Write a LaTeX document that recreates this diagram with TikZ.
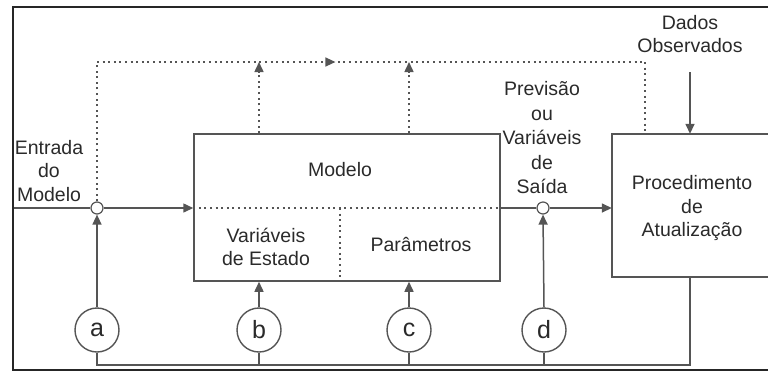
\documentclass[tikz,border=0pt]{standalone}
\usepackage{fontspec}
\setmainfont{Liberation Sans}
\usetikzlibrary{arrows.meta,decorations.markings}
\definecolor{ln}{HTML}{555555}
\definecolor{tx}{HTML}{2A2A2A}
\begin{document}
\begin{tikzpicture}[x=1pt,y=-1pt,
  every node/.style={text=tx,font=\fontsize{19.5}{23.5}\selectfont,inner sep=0pt},
  line/.style={draw=ln,line width=1.5pt},
  dotline/.style={draw=ln,line width=1.5pt,dash pattern=on 2pt off 3.6pt},
  tip/.style={-{Triangle[length=10pt,width=9pt]}},
  junc/.style={circle,draw=ln,line width=1.2pt,fill=white,minimum size=12pt},
  letter/.style={circle,draw=ln,line width=1.4pt,fill=white,minimum size=44pt,font=\fontsize{25}{28}\selectfont},
  box/.style={draw=ln,line width=1.5pt,minimum width=306pt,minimum height=147pt}]
\useasboundingbox (0,0) rectangle (768,376);
% frame
\draw[line width=2.6pt,draw=black!85] (769,7) -- (13,7) -- (13,370) -- (769,370);
% nodes
\node[box] (modelo) at (347,207.5) {};
\node (modtxt) at (340,170) {Modelo};
\node[align=center] (estado) at (266,247) {Variáveis\\de Estado};
\node (param) at (421,244) {Parâmetros};
\node[minimum width=156pt,minimum height=143pt] (proc) at (690,205.5) {};
\node[align=center] (proctxt) at (692,208) {Procedimento\\de\\Atualização};
\node[align=center] (entrada) at (49,171) {Entrada\\do\\Modelo};
\node[align=center,font=\fontsize{19.5}{24.5}\selectfont] (saida) at (542,138) {Previsão\\ou\\Variáveis\\de\\Saída};
\node[align=center] (dados) at (690,34) {Dados\\Observados};
\node[junc] (ja) at (97,208) {};
\node[junc] (jd) at (543,208) {};
\node[letter] (a) at (97,330) {a};
\node[letter] (b) at (259,330) {b};
\node[letter] (c) at (409,330) {c};
\node[letter] (d) at (544,330) {d};
\coordinate (in) at (14,208);
\coordinate (tl) at (97,62);
\coordinate (tr) at (645,62);
\coordinate (dtop) at (690,72);
\coordinate (bl) at (97,365);
\coordinate (br) at (690,365);
% procedure box (open to the right)
\draw[line] (proc.north east) -- (proc.north west) -- (proc.south west) -- (proc.south east);
% internal dotted lines of the model
\draw[dotline] (modelo.west |- ja) -- (modelo.east |- ja);
\draw[dotline] (340,208) -- (modelo.south -| 340,0);
% main flow
\draw[line] (in) -- (ja.west);
\draw[line,tip] (ja.east) -- (modelo.west |- ja);
\draw[line] (modelo.east |- jd) -- (jd.west);
\draw[line,tip] (jd.east) -- (proc.west |- jd);
% dotted feedback loop
\draw[dotline] (ja.north) -- (tl);
\draw[dotline,postaction={decorate},decoration={markings,mark=at position 0.435 with {\arrow{Triangle[length=10pt,width=9pt]}}}] (tl) -- (tr);
\draw[dotline] (tr) -- (tr |- proc.north);
\draw[dotline,tip] (modelo.north -| b) -- (tl -| b);
\draw[dotline,tip] (modelo.north -| c) -- (tl -| c);
% observed data
\draw[line,tip] (dtop) -- (proc.north);
% perturbation inputs
\draw[line,tip] (a.north) -- (ja.south);
\draw[line,tip] (b.north) -- (modelo.south -| b);
\draw[line,tip] (c.north) -- (modelo.south -| c);
\draw[line,tip] (d.north) -- (jd.south);
% bottom return
\draw[line] (a.south) -- (bl) -- (br) -- (proc.south);
\draw[line] (b.south) -- (b |- bl);
\draw[line] (c.south) -- (c |- bl);
\draw[line] (d.south) -- (d |- bl);
\end{tikzpicture}
\end{document}
